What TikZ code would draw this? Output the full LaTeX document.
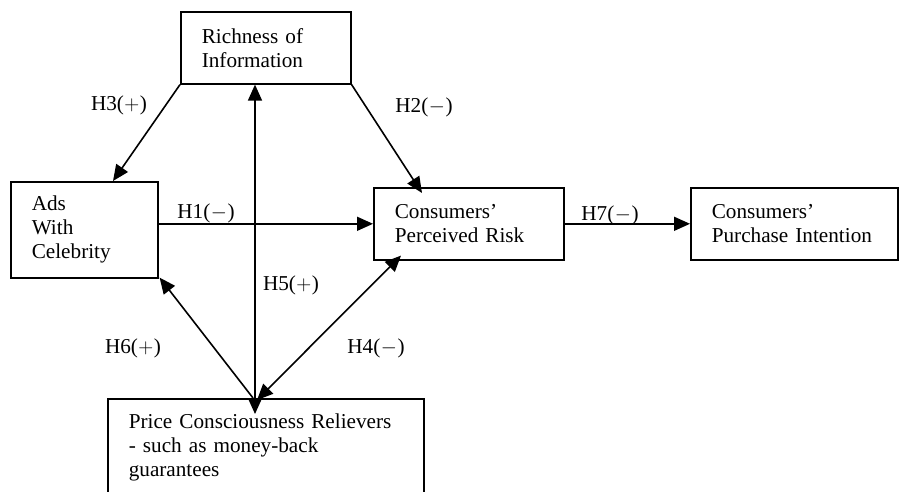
\documentclass[tikz,border=0pt]{standalone}
\usepackage{fontspec}
\setmainfont{Liberation Serif}
\usetikzlibrary{arrows.meta,calc}
\newcommand{\hyp}[2]{H#1(\hspace{0.5pt}$#2$\hspace{0.5pt})}
\begin{document}
\begin{tikzpicture}[x=1pt,y=-1pt,
  box/.style={draw,line width=1.6pt,anchor=north west,inner xsep=21pt,inner ysep=0pt,align=left,
    font=\fontsize{21.2pt}{24pt}\selectfont},
  lbl/.style={font=\fontsize{21.2pt}{24pt}\selectfont,inner sep=0pt},
  arr/.style={line width=1.6pt,-{Triangle[length=16pt,width=14pt]}},
  darr/.style={line width=1.6pt,{Triangle[length=16pt,width=14pt]}-{Triangle[length=16pt,width=14pt]}}]
\useasboundingbox (0,0) rectangle (899,491);
\node[box,text width=128pt,minimum height=72pt] (rich) at (180,11) {Richness of\\Information};
\node[box,text width=105pt,minimum height=96pt] (ads) at (10,181) {Ads\\With\\Celebrity};
\node[box,text width=148pt,minimum height=72pt] (risk) at (373,187) {Consumers'\\Perceived Risk};
\node[box,text width=165pt,minimum height=72pt] (intent) at (690,187) {Consumers'\\Purchase Intention};
\node[box,text width=274pt,minimum height=98pt] (price) at (107,398) {Price Consciousness Relievers\\- such as money-back\\guarantees};
% connectors
\draw[arr] (rich.south west) -- ([xshift=103pt]ads.north west);
\draw[arr] (rich.south east) -- ([xshift=49pt,yshift=-6pt]risk.north west);
\draw[darr] ([xshift=75pt]rich.south west) -- ([xshift=148pt,yshift=-16pt]price.north west);
\draw[arr] (ads.east |- risk.west) -- (risk.west);
\draw[arr] (risk.east) -- (intent.west);
\draw[arr] ([xshift=146pt]price.north west) -- ([xshift=1pt,yshift=1pt]ads.south east);
\draw[darr] ([xshift=150pt,yshift=-2pt]price.north west) -- ([xshift=28pt,yshift=5pt]risk.south west);
% labels
\node[lbl] (h3) at (119,105) {\hyp{3}{+}};
\node[lbl] (h2) at (424,107) {\hyp{2}{-}};
\node[lbl] (h1) at (206,213) {\hyp{1}{-}};
\node[lbl] (h7) at (610,215) {\hyp{7}{-}};
\node[lbl] (h5) at (291,285) {\hyp{5}{+}};
\node[lbl] (h6) at (133,348) {\hyp{6}{+}};
\node[lbl] (h4) at (376,348) {\hyp{4}{-}};
\end{tikzpicture}
\end{document}
